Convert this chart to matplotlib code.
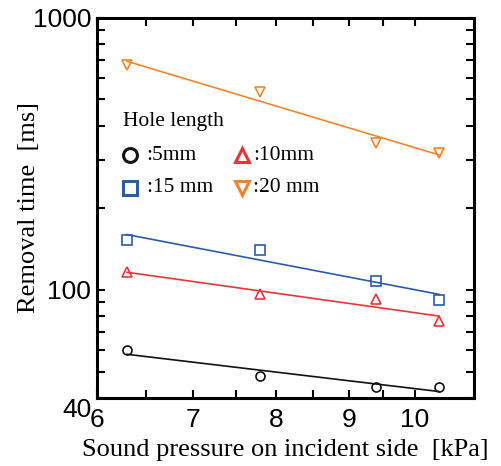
import numpy as np
import matplotlib
matplotlib.use("Agg")
import matplotlib.pyplot as plt
from matplotlib.ticker import FixedLocator, NullFormatter, FixedFormatter

pressure = [6.3, 7.8, 9.4, 10.4]  # kPa
t_5mm = [59.9, 48.1, 44.0, 44.0]
t_10mm = [116.0, 96.4, 92.5, 76.5]
t_15mm = [151.7, 139.4, 107.9, 91.9]
t_20mm = [669.0, 531.0, 347.0, 317.0]

series = [
    (t_5mm, "o", "#111111", ":5mm"),
    (t_10mm, "^", "#EC3338", ":10mm"),
    (t_15mm, "s", "#2C5BAA", ":15 mm"),
    (t_20mm, "v", "#F4842C", ":20 mm"),
]

SERIF = ["Liberation Serif", "DejaVu Serif"]
SANS = ["Liberation Sans", "DejaVu Sans"]

fig = plt.figure(figsize=(5.02, 4.66), dpi=100)
ax = fig.add_axes([0.1926, 0.1459, 0.944 - 0.1926, 0.9624 - 0.1459])

x = np.array(pressure)
for vals, mk, col, lab in series:
    y = np.array(vals)
    ax.plot(x, y, ls="none", marker=mk, ms=6.5, mfc="none", mec=col, mew=1.2, zorder=3)
    # power-law fit, straight on log-log axes
    k, c = np.polyfit(np.log10(x), np.log10(y), 1)
    xf = np.array([x.min(), x.max()])
    ax.plot(xf, 10 ** (c + k * np.log10(xf)), color=col, lw=1.2, zorder=2)

ax.set_xscale("log")
ax.set_yscale("log")
ax.set_xlim(6, 11)
ax.set_ylim(40, 1000)

ax.xaxis.set_major_locator(FixedLocator([6, 7, 8, 9, 10]))
ax.xaxis.set_major_formatter(FixedFormatter(["6", "7", "8", "9", "10"]))
ax.xaxis.set_minor_locator(FixedLocator([6.5, 7.5, 8.5, 9.5]))
ax.xaxis.set_minor_formatter(NullFormatter())
ax.yaxis.set_major_locator(FixedLocator([40, 100, 1000]))
ax.yaxis.set_major_formatter(FixedFormatter(["40", "100", "1000"]))
ax.yaxis.set_minor_locator(FixedLocator([50, 60, 70, 80, 90, 200, 300, 400, 500, 600, 700, 800, 900]))
ax.yaxis.set_minor_formatter(NullFormatter())

for s in ax.spines.values():
    s.set_linewidth(2.2)
ax.tick_params(which="both", direction="in", top=True, right=True, length=6, width=1.5)
ax.tick_params(axis="y", which="major", labelsize=19, pad=4)
ax.tick_params(axis="x", which="major", labelsize=19, pad=7)
for t in ax.get_xticklabels() + ax.get_yticklabels():
    t.set_family(SANS)
ax.get_yticklabels()[0].set_va("top")

ax.set_xlabel("Sound pressure on incident side  [kPa]", family=SERIF, fontsize=19, labelpad=5)
ax.set_ylabel("Removal time  [ms]", family=SERIF, fontsize=19, labelpad=-5)

# legend drawn by hand, two columns
ax.text(0.069, 0.715, "Hole length", transform=ax.transAxes, family=SERIF, fontsize=15.5, va="baseline")
lpos = [(0.089, 0.1325, 0.6386), (0.385, 0.414, 0.6386), (0.089, 0.1325, 0.552), (0.385, 0.414, 0.552)]
for (vals, mk, col, lab), (mx, tx, ly) in zip(series, lpos):
    ax.plot([mx], [ly], transform=ax.transAxes, ls="none", marker=mk, ms=10, mfc="none", mec=col, mew=2.2)
    ax.text(tx, ly, lab, transform=ax.transAxes, family=SERIF, fontsize=15.5, va="center")

fig.savefig("out.png", dpi=100)
